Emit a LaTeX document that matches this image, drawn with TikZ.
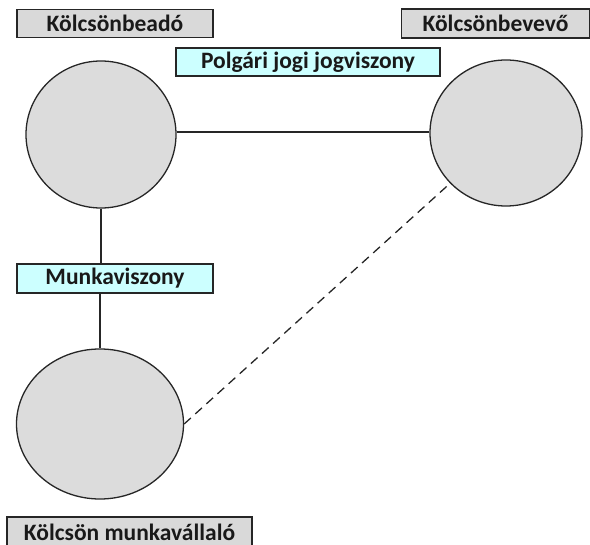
\documentclass[tikz,border=0pt]{standalone}
\usepackage{fontspec}
\setmainfont{Carlito}
\usetikzlibrary{shapes.geometric}
\definecolor{boxgray}{HTML}{D9D9D9}
\definecolor{boxcyan}{HTML}{CCFFFF}
\definecolor{circgray}{HTML}{DCDCDC}
\begin{document}
\begin{tikzpicture}[x=1pt,y=-1pt,
  lbl/.style={draw=black!85, line width=1.3pt, inner sep=0pt, font=\fontsize{23.5}{26}\selectfont\bfseries, text=black!90},
  graylbl/.style={lbl, fill=boxgray},
  cyanlbl/.style={lbl, fill=boxcyan},
  party/.style={ellipse, draw=black!85, line width=1.3pt, fill=circgray, inner sep=0pt},
  rel/.style={draw=black!85, line width=1.3pt}]
\useasboundingbox (0,0) rectangle (590,545);
\node[graylbl, minimum width=196pt, minimum height=28pt] (A) at (115,23.5) {Kölcsönbeadó};
\node[graylbl, minimum width=188pt, minimum height=29pt] (B) at (495.5,23.5) {Kölcsönbevevő};
\node[cyanlbl, minimum width=264pt, minimum height=28pt] (P) at (308,62) {Polgári jogi jogviszony};
\node[cyanlbl, minimum width=196pt, minimum height=29pt] (M) at (115,278.5) {Munkaviszony};
\node[graylbl, minimum width=245pt, minimum height=30pt] (K) at (129.5,532) {Kölcsön munkavállaló};
\node[party, minimum width=150pt, minimum height=147pt] (c1) at (101,134.5) {};
\node[party, minimum width=152pt, minimum height=146pt] (c2) at (506,133) {};
\node[party, minimum width=167pt, minimum height=150pt] (c3) at (100,424) {};
\draw[rel] (c1.east |- 0,132) -- (c2.west |- 0,132);
\draw[rel] (c1.south) -- (M.north -| c1.south);
\draw[rel] (M.south -| c3.north) -- (c3.north);
\draw[rel, dashed, dash pattern=on 9pt off 6pt] (c3.east) -- (c2.-138);
\end{tikzpicture}
\end{document}
